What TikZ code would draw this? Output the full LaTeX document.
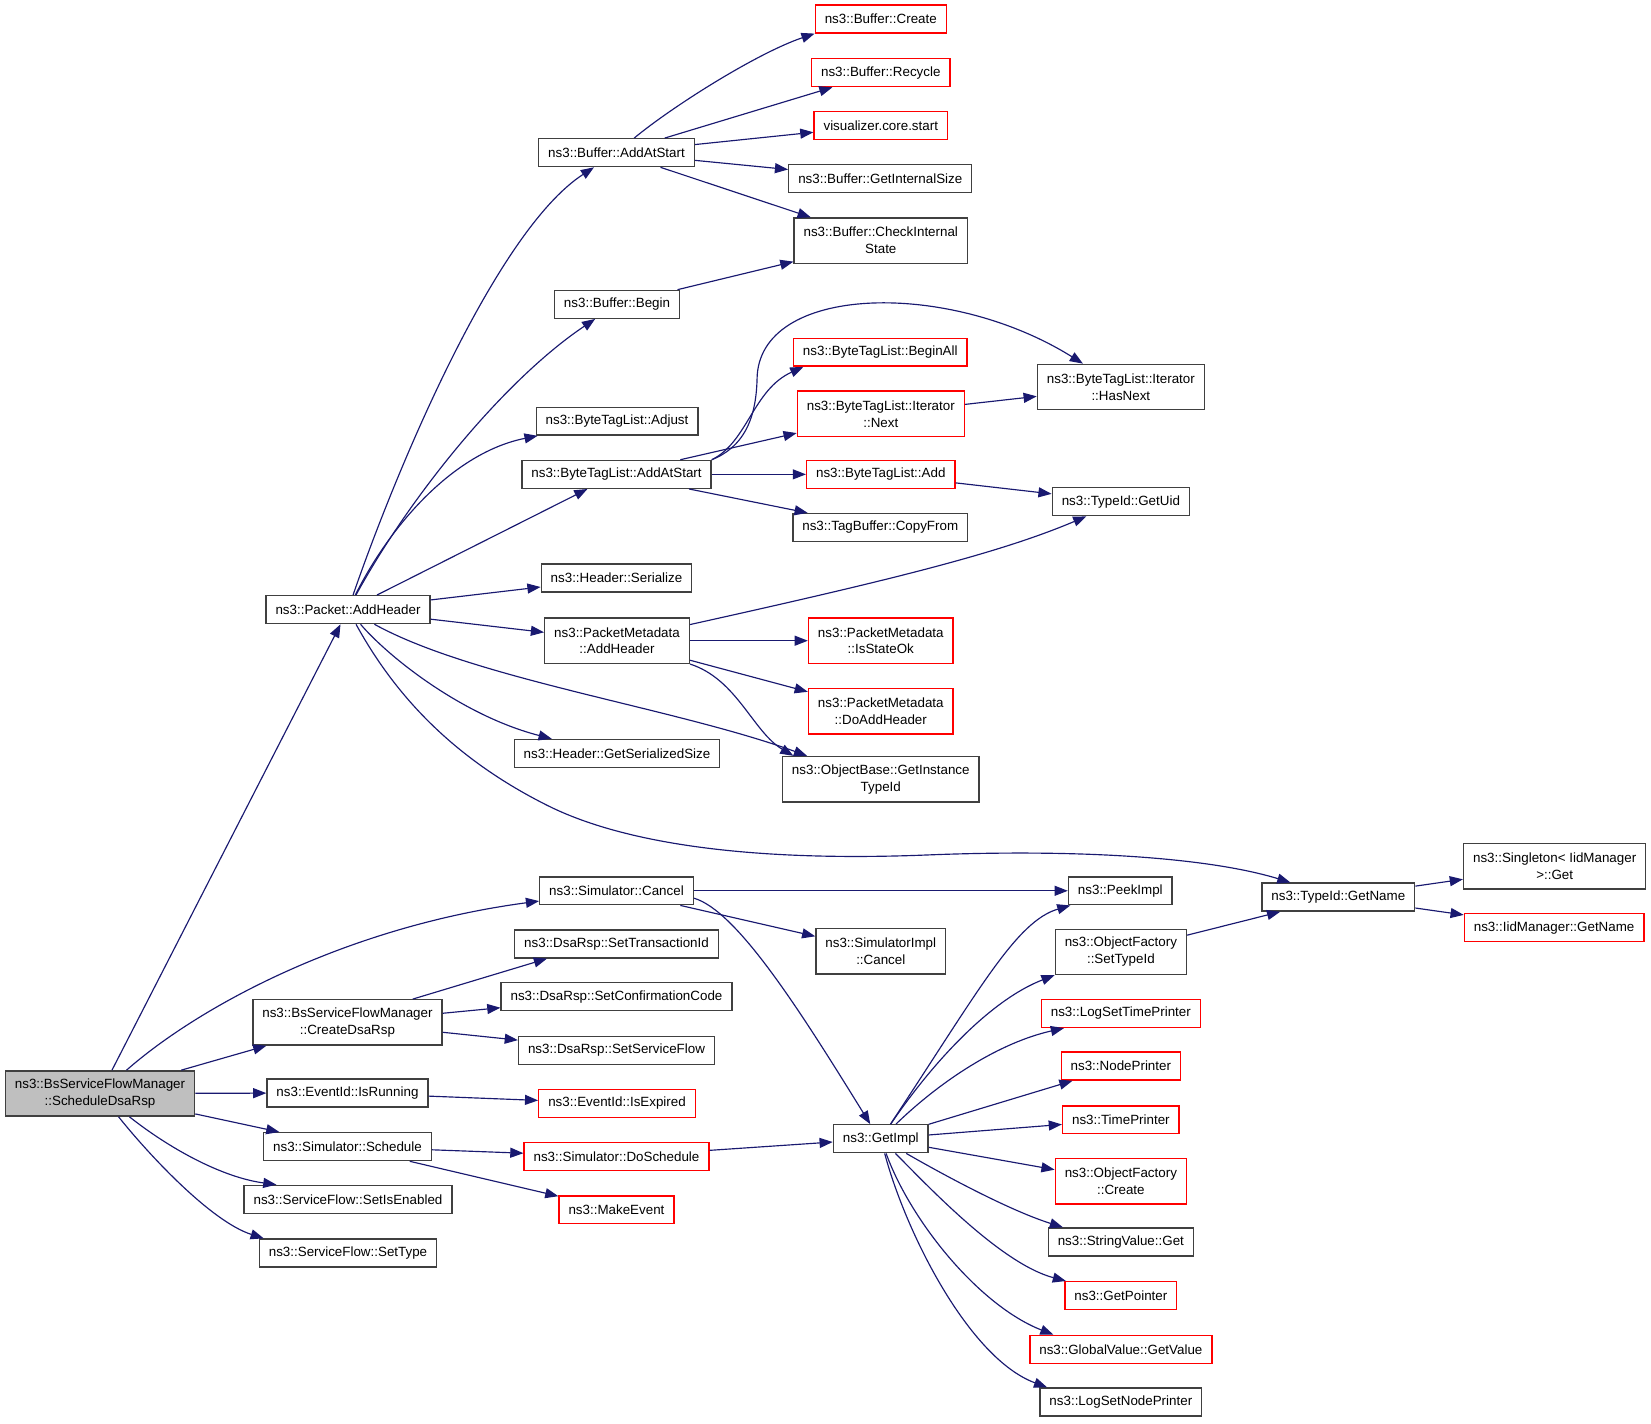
\documentclass[tikz,border=0pt]{standalone}
\usepackage{fontspec}
\setmainfont{Liberation Sans}
\usetikzlibrary{arrows.meta}
\definecolor{edgeblue}{HTML}{191970}
\definecolor{boxline}{HTML}{404040}
\definecolor{boxgray}{HTML}{BFBFBF}
\tikzset{
  fn/.style={draw=boxline, line width=1.3pt, fill=white, inner xsep=9pt, inner ysep=2pt, minimum height=26.5pt, align=center},
  ext/.style={fn, draw=red},
  root/.style={fn, fill=boxgray},
  two/.style={minimum height=43pt},
  call/.style={draw=edgeblue, line width=1.1pt, -{Triangle[length=12.5pt,width=9.5pt]}},
}
\begin{document}
\begin{tikzpicture}[x=1pt,y=-1pt,font=\fontsize{12.7}{16}\selectfont]
\useasboundingbox (0,0) rectangle (1568,1352.4);
% caller
\node[root,two] (sdr) at (95,1038.5) {ns3::BsServiceFlowManager\\::ScheduleDsaRsp};
% second column
\node[fn] (pah) at (330.5,579) {ns3::Packet::AddHeader};
\node[fn,two] (cdr) at (330,971) {ns3::BsServiceFlowManager\\::CreateDsaRsp};
\node[fn] (isrun) at (330,1038) {ns3::EventId::IsRunning};
\node[fn] (sched) at (330,1089) {ns3::Simulator::Schedule};
\node[fn] (setena) at (330.5,1139) {ns3::ServiceFlow::SetIsEnabled};
\node[fn] (settype) at (330.5,1190) {ns3::ServiceFlow::SetType};
% third column
\node[fn] (bas) at (585.5,145) {ns3::Buffer::AddAtStart};
\node[fn] (bbeg) at (586,289) {ns3::Buffer::Begin};
\node[fn] (badj) at (586,400) {ns3::ByteTagList::Adjust};
\node[fn] (btas) at (585.5,450.5) {ns3::ByteTagList::AddAtStart};
\node[fn] (hser) at (585.5,549) {ns3::Header::Serialize};
\node[fn,two] (pmah) at (586,608.5) {ns3::PacketMetadata\\::AddHeader};
\node[fn] (hgss) at (586,715.5) {ns3::Header::GetSerializedSize};
\node[fn] (scan) at (585.5,846) {ns3::Simulator::Cancel};
\node[fn] (settid) at (585.5,896.5) {ns3::DsaRsp::SetTransactionId};
\node[fn] (setcc) at (585.5,946.5) {ns3::DsaRsp::SetConfirmationCode};
\node[fn] (setsf) at (585.5,997.5) {ns3::DsaRsp::SetServiceFlow};
\node[ext] (isexp) at (586,1048) {ns3::EventId::IsExpired};
\node[ext] (dosch) at (585.5,1098.5) {ns3::Simulator::DoSchedule};
\node[ext] (mkev) at (585.5,1149) {ns3::MakeEvent};
% fourth column
\node[ext] (bcre) at (836.5,18) {ns3::Buffer::Create};
\node[ext] (brec) at (836.5,69) {ns3::Buffer::Recycle};
\node[ext] (vis) at (836.5,119) {visualizer.core.start};
\node[fn] (bgis) at (836,169.5) {ns3::Buffer::GetInternalSize};
\node[fn,two] (bcis) at (836.5,228.5) {ns3::Buffer::CheckInternal\\State};
\node[ext] (btba) at (836,334.5) {ns3::ByteTagList::BeginAll};
\node[ext,two] (btnext) at (836.5,393) {ns3::ByteTagList::Iterator\\::Next};
\node[ext] (btadd) at (836.5,450.5) {ns3::ByteTagList::Add};
\node[fn] (tbcf) at (836,501) {ns3::TagBuffer::CopyFrom};
\node[ext,two] (pmiso) at (836.5,608.5) {ns3::PacketMetadata\\::IsStateOk};
\node[ext,two] (pmdah) at (836.5,675.5) {ns3::PacketMetadata\\::DoAddHeader};
\node[fn,two] (obgit) at (836.5,740) {ns3::ObjectBase::GetInstance\\TypeId};
\node[fn,two] (simc) at (836.5,903.5) {ns3::SimulatorImpl\\::Cancel};
\node[fn] (gimpl) at (836.5,1081.5) {ns3::GetImpl};
% fifth column
\node[fn,two] (hasnext) at (1064.5,367.5) {ns3::ByteTagList::Iterator\\::HasNext};
\node[fn] (getuid) at (1064.5,476.5) {ns3::TypeId::GetUid};
\node[fn] (peek) at (1064,846) {ns3::PeekImpl};
\node[fn,two] (ofst) at (1064.5,904) {ns3::ObjectFactory\\::SetTypeId};
\node[ext] (lstp) at (1064.5,962.5) {ns3::LogSetTimePrinter};
\node[ext] (nodep) at (1064.5,1012.5) {ns3::NodePrinter};
\node[ext] (timep) at (1064.5,1063.5) {ns3::TimePrinter};
\node[ext,two] (ofcr) at (1064.5,1122) {ns3::ObjectFactory\\::Create};
\node[fn] (svget) at (1064.5,1179.5) {ns3::StringValue::Get};
\node[ext] (getp) at (1064.5,1230.5) {ns3::GetPointer};
\node[ext] (gvgv) at (1064.5,1281.5) {ns3::GlobalValue::GetValue};
\node[fn] (lsnp) at (1064.5,1331.5) {ns3::LogSetNodePrinter};
% last columns
\node[fn] (tgn) at (1271,852) {ns3::TypeId::GetName};
\node[fn,two] (sing) at (1476.5,822.7) {ns3::Singleton< IidManager\\>::Get};
\node[ext] (iidgn) at (1476,881) {ns3::IidManager::GetName};
% calls of ScheduleDsaRsp
\draw[call] (sdr) -- (pah);
\draw[call] (sdr) .. controls (190,955) and (330,880) .. (scan);
\draw[call] (sdr) -- (cdr);
\draw[call] (sdr) -- (isrun);
\draw[call] (sdr) -- (sched);
\draw[call] (sdr) .. controls (160,1090) and (210,1118) .. ([xshift=-68pt]setena.north);
\draw[call] (sdr) .. controls (140,1095) and (200,1160) .. ([xshift=-80pt]settype.north);
% Packet::AddHeader
\draw[call] (pah) .. controls (375,450) and (470,220) .. (bas);
\draw[call] (pah) .. controls (390,470) and (480,360) .. (bbeg);
\draw[call] (pah) .. controls (370,500) and (430,430) .. ([xshift=2pt]badj.south west);
\draw[call] (pah) -- (btas);
\draw[call] (pah) -- (hser);
\draw[call] (pah) -- (pmah);
\draw[call] (pah) .. controls (370,625) and (440,680) .. ([xshift=-62pt]hgss.north);
\draw[call] (pah) .. controls (450,645) and (640,672) .. ([xshift=-70pt]obgit.north);
\draw[call] (pah) .. controls (375,660) and (430,720) .. (520,765)
  .. controls (600,805) and (730,818) .. (880,812)
  .. controls (1030,806) and (1150,815) .. (tgn);
% Buffer
\draw[call] (bas) .. controls (640,100) and (720,50) .. (bcre.south west);
\draw[call] (bas) -- (brec);
\draw[call] (bas) -- (vis);
\draw[call] (bas) -- (bgis);
\draw[call] (bas) -- (bcis);
\draw[call] (bbeg) -- (bcis);
% ByteTagList
\draw[call] (btas.north east) .. controls (705,425) and (718,400) .. (719,360)
  .. controls (720,270) and (900,265) .. ([xshift=-36pt]hasnext.north);
\draw[call] (btas.north east) .. controls (710,420) and (715,370) .. ([xshift=-73pt]btba.south);
\draw[call] (btas) -- (btnext);
\draw[call] (btas) -- (btadd);
\draw[call] (btas) -- (tbcf);
\draw[call] (btnext) -- (hasnext);
\draw[call] (btadd) -- (getuid);
% PacketMetadata
\draw[call] (pmah) .. controls (850,550) and (950,525) .. (getuid);
\draw[call] (pmah) -- (pmiso);
\draw[call] (pmah) -- (pmdah);
\draw[call] (pmah.south east) .. controls (700,645) and (715,695) .. ([xshift=-83pt]obgit.north);
% Simulator
\draw[call] (scan) -- (peek);
\draw[call] (scan) -- (simc);
\draw[call] ([yshift=-7pt]scan.east) .. controls (700,865) and (760,960) .. ([xshift=-10pt]gimpl.north);
\draw[call] ([xshift=62pt]cdr.north) -- ([xshift=-66pt]settid.south);
\draw[call] (cdr) -- (setcc);
\draw[call] (cdr) -- (setsf);
\draw[call] (isrun) -- (isexp);
\draw[call] (sched) -- (dosch);
\draw[call] (sched) -- (mkev);
\draw[call] (dosch) -- (gimpl);
% GetImpl
\draw[call] (gimpl) .. controls (930,940) and (965,875) .. (peek);
\draw[call] (gimpl) .. controls (885,1010) and (940,950) .. (ofst.south west);
\draw[call] (gimpl) .. controls (895,1025) and (950,990) .. ([xshift=-54pt]lstp.south);
\draw[call] (gimpl) -- (nodep);
\draw[call] (gimpl) -- (timep);
\draw[call] (gimpl) -- (ofcr);
\draw[call] (gimpl) .. controls (900,1118) and (960,1150) .. ([xshift=-55pt]svget.north);
\draw[call] (gimpl) .. controls (880,1125) and (950,1200) .. (getp);
\draw[call] (gimpl) .. controls (865,1160) and (930,1240) .. ([xshift=-64pt]gvgv.north);
\draw[call] (gimpl) .. controls (860,1170) and (920,1290) .. ([xshift=-70pt]lsnp.north);
% TypeId
\draw[call] (ofst) -- (tgn);
\draw[call] (tgn) -- (sing);
\draw[call] (tgn) -- (iidgn);
\end{tikzpicture}
\end{document}
